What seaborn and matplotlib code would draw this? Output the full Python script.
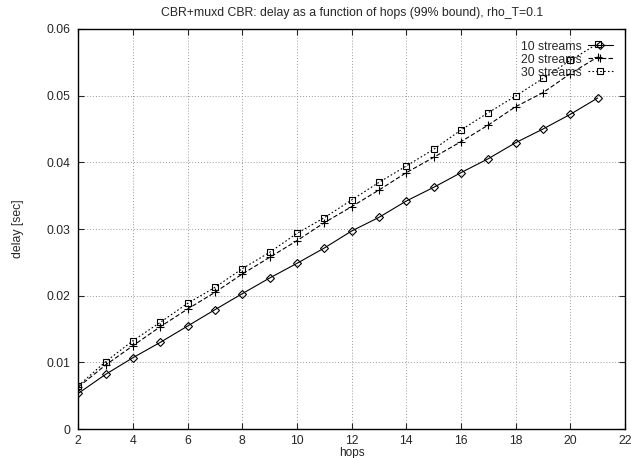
import matplotlib
matplotlib.use("Agg")
import matplotlib.pyplot as plt
import seaborn as sns
from matplotlib.ticker import FuncFormatter

hops = [2, 3, 4, 5, 6, 7, 8, 9, 10, 11, 12, 13, 14, 15, 16, 17, 18, 19, 20, 21]
streams_10 = [0.00535, 0.0082, 0.0107, 0.0130, 0.01545, 0.0179, 0.0203, 0.02265, 0.02485, 0.02715,
              0.0297, 0.03175, 0.0342, 0.03625, 0.03845, 0.04055, 0.04295, 0.0450, 0.0472, 0.04965]
streams_20 = [0.0063, 0.0096, 0.0125, 0.01535, 0.0180, 0.0205, 0.02325, 0.02575, 0.02825, 0.03095,
              0.03335, 0.03585, 0.03845, 0.04075, 0.0431, 0.0456, 0.04835, 0.05045, 0.0533, 0.0558]
streams_30 = [0.0065, 0.0101, 0.01325, 0.0160, 0.01885, 0.02125, 0.02405, 0.0265, 0.02935, 0.0317,
              0.03435, 0.0370, 0.03945, 0.04195, 0.04485, 0.04745, 0.04995, 0.0526, 0.0553, 0.0578]
labels = ["10 streams", "20 streams", "30 streams"]

sns.set_style("ticks")
plt.rcParams["font.family"] = ["Liberation Sans", "DejaVu Sans"]
plt.rcParams["font.size"] = 8.8

fig = plt.figure(figsize=(6.31, 4.58), dpi=100)
ax = fig.add_axes([0.1241, 0.0633, 0.8664, 0.8734])

# marker, dash pattern, marker size per series
styles = [("D", "-", 4), ("+", (0, (4, 2)), 5.5), ("s", (0, (1.5, 2)), 5)]
for vals, lab, (mk, ls, ms) in zip([streams_10, streams_20, streams_30], labels, styles):
    sns.lineplot(x=hops, y=vals, ax=ax, color="black", lw=0.8, linestyle=ls,
                 marker=mk, markersize=ms, mfc="none", mec="black", mew=0.8, label=lab)

ax.set_xlim(2, 22)
ax.set_ylim(0, 0.06)
ax.set_xticks(range(2, 23, 2))
ax.set_yticks([0, 0.01, 0.02, 0.03, 0.04, 0.05, 0.06])
ax.yaxis.set_major_formatter(FuncFormatter(lambda v, p: "0" if v == 0 else f"{v:.2f}"))
ax.tick_params(direction="in", length=4, width=0.8, top=True, right=True, pad=6, labelsize=8.8)
ax.tick_params(axis="x", pad=4)
ax.grid(True, color="#999999", linestyle=(0, (1, 2)), linewidth=0.7)
for sp in ax.spines.values():
    sp.set_linewidth(1.0)
    sp.set_color("black")

ax.set_xlabel("hops", labelpad=0, fontsize=8.5)
ax.set_ylabel("delay [sec]", labelpad=16)
ax.set_title("CBR+muxd CBR: delay as a function of hops (99% bound), rho_T=0.1", fontsize=8.8, pad=9)

ax.legend(loc="upper right", bbox_to_anchor=(0.971, 0.911), bbox_transform=fig.transFigure,
          frameon=False, markerfirst=False, handlelength=2.0, handletextpad=0.5,
          labelspacing=0.08, borderpad=0, borderaxespad=0, fontsize=8.8)

fig.savefig("out.png", dpi=100)
